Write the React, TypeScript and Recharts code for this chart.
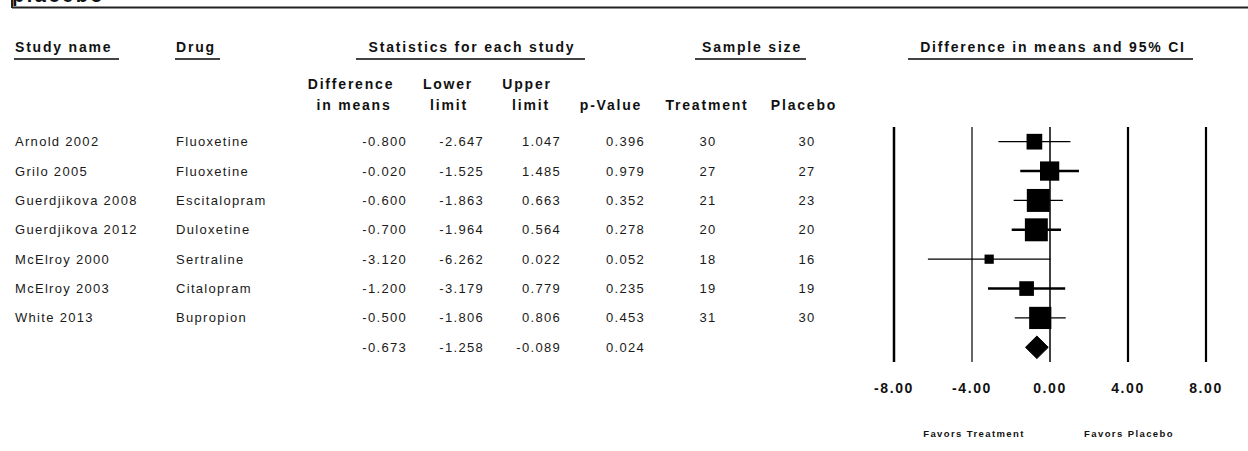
import { ComposedChart, ErrorBar, ReferenceLine, Scatter, XAxis, YAxis, ZAxis } from "recharts";

const FONT = '"Liberation Sans", Arial, sans-serif';

const studies = [
  "Arnold 2002",
  "Grilo 2005",
  "Guerdjikova 2008",
  "Guerdjikova 2012",
  "McElroy 2000",
  "McElroy 2003",
  "White 2013",
];
const drugs = ["Fluoxetine", "Fluoxetine", "Escitalopram", "Duloxetine", "Sertraline", "Citalopram", "Bupropion"];
const diffs = [-0.8, -0.02, -0.6, -0.7, -3.12, -1.2, -0.5];
const lowers = [-2.647, -1.525, -1.863, -1.964, -6.262, -3.179, -1.806];
const uppers = [1.047, 1.485, 0.663, 0.564, 0.022, 0.779, 0.806];
const pValues = [0.396, 0.979, 0.352, 0.278, 0.052, 0.235, 0.453];
const nTreatment = [30, 27, 21, 20, 18, 19, 31];
const nPlacebo = [30, 27, 23, 20, 16, 19, 30];

const pooledDiff = -0.673;
const pooledLower = -1.258;
const pooledUpper = -0.089;
const pooledP = 0.024;

const xTicks = [-8, -4, 0, 4, 8];

// inverse-variance weight from the CI, marker area follows it
const rows = studies.map((name, i) => {
  const se = (uppers[i] - lowers[i]) / (2 * 1.96);
  return {
    name,
    drug: drugs[i],
    x: diffs[i],
    y: i + 0.5,
    lower: lowers[i],
    upper: uppers[i],
    p: pValues[i],
    nt: String(nTreatment[i]),
    np: String(nPlacebo[i]),
    err: [diffs[i] - lowers[i], uppers[i] - diffs[i]],
    weight: 1 / (se * se),
  };
});

const pooledY = studies.length + 0.5;
const tableRows = [
  ...rows,
  { name: "", drug: "", x: pooledDiff, y: pooledY, lower: pooledLower, upper: pooledUpper, p: pooledP, nt: "", np: "" },
];

const diamond = [
  { x: pooledLower, y: pooledY },
  { x: pooledDiff, y: pooledY - 0.385 },
  { x: pooledUpper, y: pooledY },
  { x: pooledDiff, y: pooledY + 0.385 },
  { x: pooledLower, y: pooledY },
];

const cell = { fontFamily: FONT, fontSize: 13, fill: "#1a1a1a", letterSpacing: 1.3 };
const head = { fontFamily: FONT, fontSize: 14, fontWeight: 700, fill: "#111", letterSpacing: 1.8 };

function TableRow(props: any) {
  const { cy, payload } = props;
  const b = cy + 4.5;
  return (
    <g>
      <text x={15} y={b} {...cell}>{payload.name}</text>
      <text x={176} y={b} {...cell}>{payload.drug}</text>
      <text x={407} y={b} textAnchor="end" {...cell}>{payload.x.toFixed(3)}</text>
      <text x={484} y={b} textAnchor="end" {...cell}>{payload.lower.toFixed(3)}</text>
      <text x={561} y={b} textAnchor="end" {...cell}>{payload.upper.toFixed(3)}</text>
      <text x={645} y={b} textAnchor="end" {...cell}>{payload.p.toFixed(3)}</text>
      <text x={708} y={b} textAnchor="middle" {...cell}>{payload.nt}</text>
      <text x={807} y={b} textAnchor="middle" {...cell}>{payload.np}</text>
    </g>
  );
}

function Headers() {
  return (
    <svg width={1248} height={451} style={{ position: "absolute", left: 0, top: 0, pointerEvents: "none" }}>
      <text x={12} y={2} fontFamily={FONT} fontSize={20} fontWeight={700} fill="#111" letterSpacing={2.5}>
        placebo
      </text>
      <line x1={12} x2={1248} y1={7.5} y2={7.5} stroke="#222" strokeWidth={2} />
      <line x1={12} x2={12} y1={0} y2={8} stroke="#222" strokeWidth={2} />

      <text x={15} y={52} {...head}>Study name</text>
      <line x1={14} x2={119} y1={59} y2={59} stroke="#444" strokeWidth={2} />
      <text x={176} y={52} {...head}>Drug</text>
      <line x1={175} x2={220} y1={59} y2={59} stroke="#444" strokeWidth={2} />
      <text x={472} y={52} textAnchor="middle" {...head}>Statistics for each study</text>
      <line x1={356} x2={585} y1={59} y2={59} stroke="#444" strokeWidth={2} />
      <text x={752} y={52} textAnchor="middle" {...head}>Sample size</text>
      <line x1={695} x2={806} y1={59} y2={59} stroke="#444" strokeWidth={2} />
      <text x={1053} y={52} textAnchor="middle" {...head}>Difference in means and 95% CI</text>
      <line x1={908} x2={1193} y1={59} y2={59} stroke="#444" strokeWidth={2} />

      <text x={351} y={89} textAnchor="middle" {...head}>Difference</text>
      <text x={354} y={110} textAnchor="middle" {...head}>in means</text>
      <text x={448} y={89} textAnchor="middle" {...head}>Lower</text>
      <text x={449} y={110} textAnchor="middle" {...head}>limit</text>
      <text x={527} y={89} textAnchor="middle" {...head}>Upper</text>
      <text x={531} y={110} textAnchor="middle" {...head}>limit</text>
      <text x={611} y={110} textAnchor="middle" {...head}>p-Value</text>
      <text x={707} y={110} textAnchor="middle" {...head}>Treatment</text>
      <text x={804} y={110} textAnchor="middle" {...head}>Placebo</text>

      <text x={974} y={437} textAnchor="middle" fontFamily={FONT} fontSize={9.5} fontWeight={700} fill="#111" letterSpacing={1.4}>
        Favors Treatment
      </text>
      <text x={1129} y={437} textAnchor="middle" fontFamily={FONT} fontSize={9.5} fontWeight={700} fill="#111" letterSpacing={1.4}>
        Favors Placebo
      </text>
    </svg>
  );
}

export default function App() {
  return (
    <div style={{ position: "absolute", left: 0, top: 0, width: 1248, height: 451, background: "#fff", fontFamily: FONT }}>
      <ComposedChart width={1248} height={451} margin={{ top: 127, right: 42, bottom: 59, left: 894 }}>
        <XAxis
          type="number"
          dataKey="x"
          domain={[-8, 8]}
          ticks={xTicks}
          height={30}
          axisLine={false}
          tickLine={false}
          tickMargin={15}
          tickFormatter={(v: number) => v.toFixed(2)}
          tick={{ fontSize: 14, fontWeight: 700, fill: "#111", letterSpacing: 1.6, fontFamily: FONT }}
        />
        <YAxis type="number" dataKey="y" domain={[0, 8]} reversed hide />
        <ZAxis type="number" dataKey="weight" domain={[0, 3]} range={[0, 657]} />
        <ReferenceLine x={-8} stroke="#000" strokeWidth={2.5} />
        <ReferenceLine x={-4} stroke="#000" strokeWidth={1.2} />
        <ReferenceLine x={0} stroke="#000" strokeWidth={1.5} />
        <ReferenceLine x={4} stroke="#000" strokeWidth={2.2} />
        <ReferenceLine x={8} stroke="#000" strokeWidth={2.2} />
        <Scatter data={tableRows} shape={TableRow} isAnimationActive={false} />
        <Scatter data={rows.filter((_, i) => i % 2 === 0)} shape="square" fill="#000" isAnimationActive={false}>
          <ErrorBar dataKey="err" direction="x" width={0} stroke="#000" strokeWidth={1.2} />
        </Scatter>
        <Scatter data={rows.filter((_, i) => i % 2 === 1)} shape="square" fill="#000" isAnimationActive={false}>
          <ErrorBar dataKey="err" direction="x" width={0} stroke="#000" strokeWidth={2.5} />
        </Scatter>
        <Scatter
          data={diamond}
          shape={() => <g />}
          line={{ stroke: "#000", fill: "#000", strokeWidth: 1 }}
          lineJointType="linear"
          isAnimationActive={false}
        />
      </ComposedChart>
      <Headers />
    </div>
  );
}
